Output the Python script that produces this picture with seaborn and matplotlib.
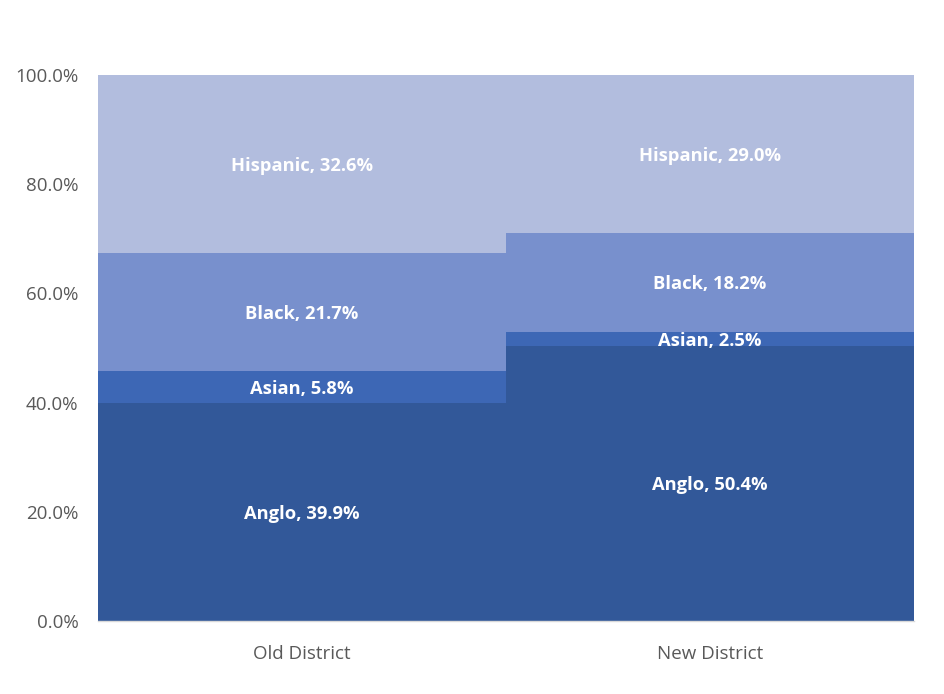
import matplotlib
matplotlib.use("Agg")
import matplotlib.pyplot as plt
import seaborn as sns
import numpy as np
import pandas as pd
from matplotlib.ticker import PercentFormatter

districts = ["Old District", "New District"]
groups = ["Anglo", "Asian", "Black", "Hispanic"]
anglo = [39.9, 50.4]
asian = [5.8, 2.5]
black = [21.7, 18.2]
hispanic = [32.6, 29.0]
colors = ["#325899", "#3D67B5", "#7890CD", "#B2BDDE"]

sns.set_theme(style="white")
plt.rcParams['font.family'] = ['Open Sans', 'DejaVu Sans']

fig = plt.figure(figsize=(9.44, 6.94), dpi=100)
ax = fig.add_axes([98/944, 1-621/694, (914-98)/944, (621-75)/694])

series = [anglo, asian, black, hispanic]
cum = np.cumsum(np.array(series), axis=0)
# draw cumulative from top down so lower layers overlay
for i in range(len(groups)-1, -1, -1):
    df = pd.DataFrame({"district": districts, "value": cum[i]})
    sns.barplot(data=df, x="district", y="value", color=colors[i], width=1.0,
                saturation=1, linewidth=0, ax=ax)

for i, g in enumerate(groups):
    for j in range(len(districts)):
        low = cum[i][j] - series[i][j]
        mid = low + series[i][j] / 2
        ax.text(j, mid, f"{g}, {series[i][j]:.1f}%", ha="center", va="center_baseline",
                color="white", fontsize=13.2, fontweight="bold")

ax.set_ylim(0, 100)
ax.set_xlim(-0.5, 1.5)
ax.set_yticks([0, 20, 40, 60, 80, 100])
ax.yaxis.set_major_formatter(PercentFormatter(decimals=1))
ax.set_xlabel("")
ax.set_ylabel("")
for s in ["top", "right", "left"]:
    ax.spines[s].set_visible(False)
ax.spines["bottom"].set_color("#D9D9D9")
ax.spines["bottom"].set_linewidth(1)
ax.tick_params(axis="both", colors="#595959", labelsize=13.5, length=0)
ax.tick_params(axis="x", pad=17)
ax.tick_params(axis="y", pad=14)

fig.savefig("out.png", dpi=100)
